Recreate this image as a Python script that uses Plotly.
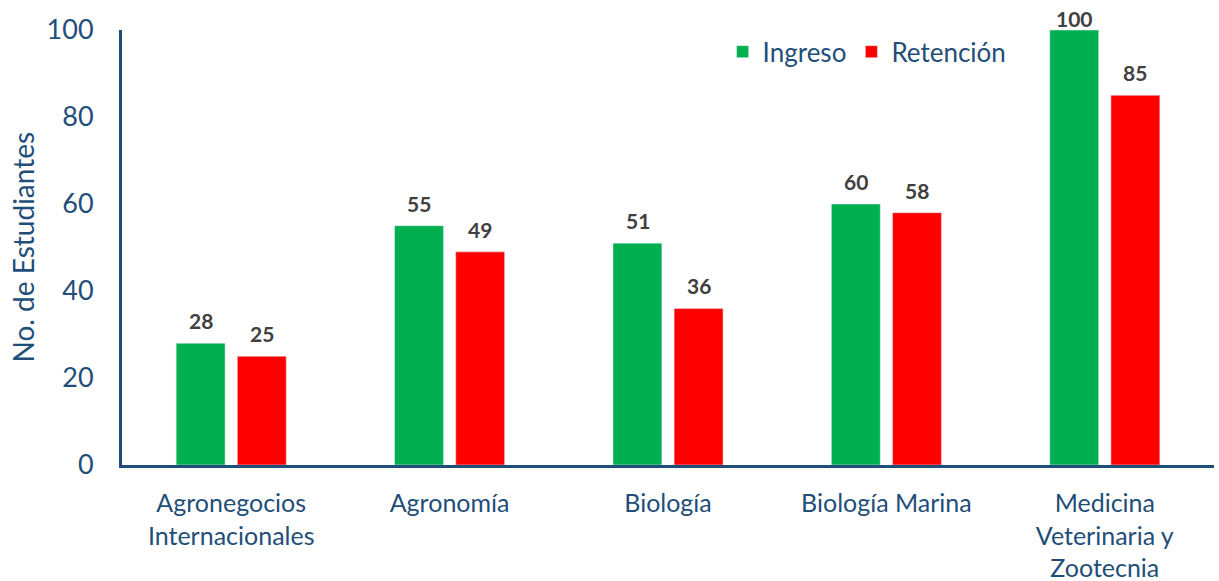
import plotly.graph_objects as go

categories = ["Agronegocios<br>Internacionales", "Agronomía", "Biología", "Biología Marina",
              "Medicina<br>Veterinaria y<br>Zootecnia"]
ingreso = [28, 55, 51, 60, 100]
retencion = [25, 49, 36, 58, 85]
y_title = "No. de Estudiantes"

blue = "#1F4E79"
font = "Lato, 'Open Sans', sans-serif"
label_font = dict(family=font, size=21, color="#404040", weight="bold")

fig = go.Figure()
fig.add_trace(go.Bar(name="Ingreso", x=categories, y=ingreso, marker_color="#00B050"))
fig.add_trace(go.Bar(name="Retención", x=categories, y=retencion, marker_color="#FF0000"))

for vals, dx in ((ingreso, -30.5), (retencion, 30.5)):
    for c, v in zip(categories, vals):
        fig.add_annotation(x=c, y=v, text=str(v), showarrow=False, xshift=dx,
                           yshift=8 if v < 95 else -3,
                           yanchor="bottom", font=label_font)

fig.add_annotation(x=0, y=0.5, xref="paper", yref="paper", text=y_title, textangle=-90,
                   showarrow=False, xanchor="center", yanchor="middle", xshift=-100,
                   font=dict(family=font, size=28, color=blue))

fig.update_layout(
    width=1219, height=581,
    margin=dict(l=122, r=5, t=30, b=116),
    paper_bgcolor="white", plot_bgcolor="white",
    barmode="group", bargap=0.44, bargroupgap=0.2,
    font=dict(family=font, color=blue),
    legend=dict(orientation="h", x=0.55, y=0.95, xanchor="left", yanchor="middle",
                font=dict(size=26, color=blue), bgcolor="rgba(0,0,0,0)", itemwidth=30),
    yaxis=dict(range=[0, 100], dtick=20, showgrid=False, zeroline=False, automargin=False,
               showline=True, linecolor=blue, linewidth=3, ticks="",
               tickfont=dict(size=27, color=blue), ticklabelstandoff=20),
    xaxis=dict(showline=True, linecolor=blue, linewidth=3, ticks="", automargin=False,
               tickfont=dict(size=25, color=blue), ticklabelstandoff=14),
)
fig.write_html("out.html", config={"displayModeBar": False},
               post_script="document.body.style.margin='0';document.body.style.overflow='hidden';")
